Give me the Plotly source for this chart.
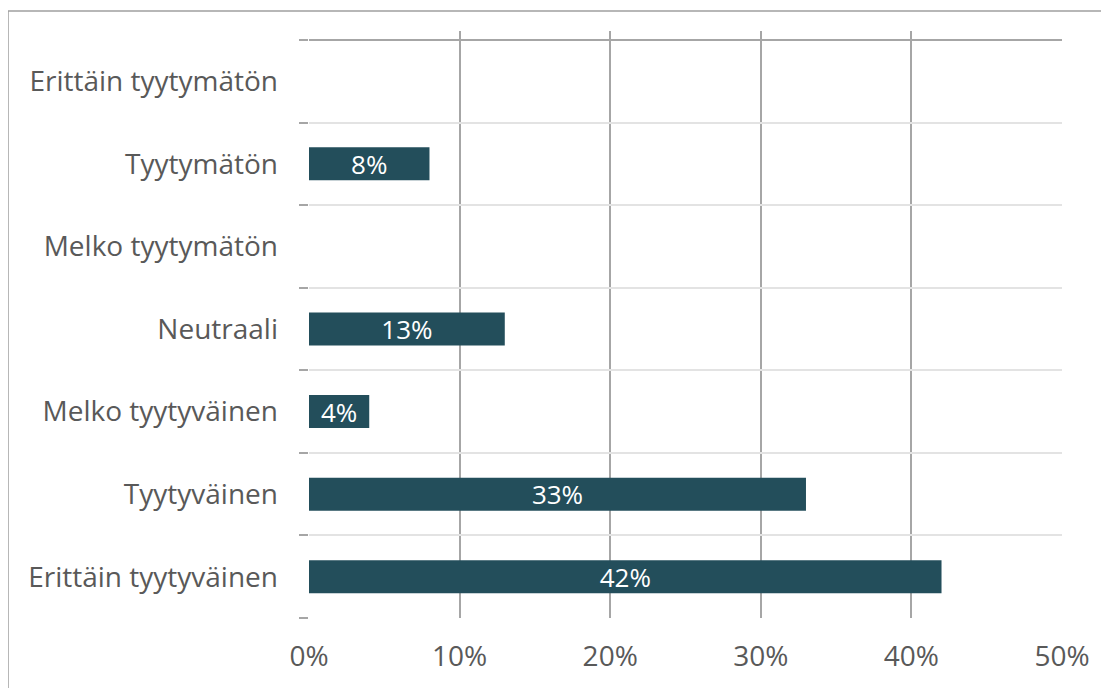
import plotly.graph_objects as go

categories = ["Erittäin tyytyväinen", "Tyytyväinen", "Melko tyytyväinen", "Neutraali",
              "Melko tyytymätön", "Tyytymätön", "Erittäin tyytymätön"]
values = [42, 33, 4, 13, 0, 8, 0]
x_ticks = [0, 10, 20, 30, 40, 50]
x_tick_labels = ["0%", "10%", "20%", "30%", "40%", "50%"]

labels = [f"{v}%" if v > 0 else "" for v in values]

# page body has an 8px margin; compensate so the plot lands where the reference has it
OFF = 8
W, H = 1109 - OFF, 688 - OFF
L, R, T, B = 309 - OFF, 1062 - OFF, 31 - OFF, 618 - OFF
FONT = "Open Sans"

fig = go.Figure(go.Bar(
    y=categories, x=values, orientation="h",
    marker=dict(color="#234E5B", line=dict(width=0)),
    width=0.4,
    text=labels, textposition="inside", insidetextanchor="middle",
    textfont=dict(color="white", size=26, family=FONT),
    constraintext="none", cliponaxis=False,
    hoverinfo="skip",
))

n = len(categories)
unit = (B - (40 - OFF)) / n
top_extra = (40 - 31) / unit

fig.update_layout(
    width=W, height=H,
    margin=dict(l=L, r=W - R, t=T, b=H - B, pad=0),
    plot_bgcolor="white", paper_bgcolor="white",
    showlegend=False,
    font=dict(family=FONT, color="#595959", size=28),
    bargap=0.6,
)
fig.update_xaxes(
    range=[0, 50], tickvals=x_ticks, ticktext=x_tick_labels,
    showgrid=True, gridcolor="#a6a6a6", gridwidth=2,
    zeroline=False, showline=False, ticks="",
    tickfont=dict(size=28, color="#595959", family=FONT),
    ticklabelstandoff=19, fixedrange=True,
)
fig.update_yaxes(
    type="category", categoryorder="array", categoryarray=categories,
    range=[-0.5, n - 0.5 + top_extra],
    tickson="boundaries", ticks="outside", ticklen=9, tickcolor="#a6a6a6", tickwidth=2,
    showgrid=True, gridcolor="#e3e3e3", gridwidth=2,
    showline=False, zeroline=False,
    tickfont=dict(size=28, color="#595959", family=FONT),
    ticklabelstandoff=30, fixedrange=True,
)

# darker top boundary line
fig.add_shape(type="line", xref="x", yref="y", x0=0, x1=50, y0=n - 0.5, y1=n - 0.5,
              line=dict(color="#a6a6a6", width=2), layer="above")
# outer chart frame
pw, ph = R - L, B - T
fig.add_shape(type="rect", xref="paper", yref="paper",
              x0=(8 - OFF - L) / pw, x1=(W + 20 - L) / pw,
              y0=(B - (H + 20)) / ph, y1=(B - (11 - OFF)) / ph,
              line=dict(color="#a0a0a0", width=1.5), fillcolor="rgba(0,0,0,0)", layer="below")

fig.write_html("out.html")
